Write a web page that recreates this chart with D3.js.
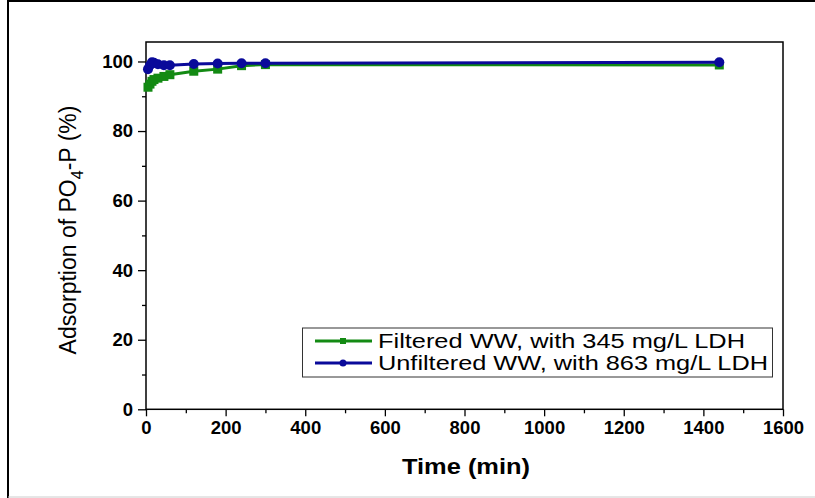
<!DOCTYPE html>
<html><head><meta charset="utf-8">
<script src="https://cdn.jsdelivr.net/npm/d3@7"></script>
<style>body{margin:0;background:#fff;}svg{display:block;font-family:Arial,"Liberation Sans",sans-serif;}</style>
</head><body>
<script>
const times = [5, 10, 15, 20, 30, 45, 60, 120, 180, 240, 300, 1440];
const filtered = [92.6, 93.5, 94.3, 94.8, 95.2, 95.7, 96.2, 97.2, 97.8, 98.8, 99.1, 99.0];
const unfiltered = [97.8, 98.9, 99.8, 99.6, 99.2, 98.9, 98.9, 99.3, 99.4, 99.5, 99.5, 99.8];
const seriesNames = ["Filtered WW, with 345 mg/L LDH", "Unfiltered WW, with 863 mg/L LDH"];
const xTicks = [0, 200, 400, 600, 800, 1000, 1200, 1400, 1600];
const yTicks = [0, 20, 40, 60, 80, 100];

const W = 815, H = 498;
const svg = d3.select("body").append("svg").attr("width", W).attr("height", H);

// outer border
svg.append("line").attr("x1",8).attr("y1",1).attr("x2",815).attr("y2",1).attr("stroke","#000").attr("stroke-width",2);
svg.append("line").attr("x1",8).attr("y1",0).attr("x2",8).attr("y2",498).attr("stroke","#000").attr("stroke-width",2);
svg.append("line").attr("x1",8).attr("y1",497).attr("x2",815).attr("y2",497).attr("stroke","#ccc").attr("stroke-width",1);

const L = 146, R = 783, T = 42, B = 409.3;
const x = d3.scaleLinear().domain([0, 1600]).range([L, R]);
const y = d3.scaleLinear().domain([0, 105.6]).range([B, T]);

// frame
svg.append("rect").attr("x",L).attr("y",T).attr("width",R-L).attr("height",B-T)
  .attr("fill","none").attr("stroke","#000").attr("stroke-width",1.5);

// axes
const xAxis = svg.append("g").attr("transform",`translate(0,${B})`)
  .call(d3.axisBottom(x).tickValues(xTicks).tickSize(7).tickPadding(5).tickFormat(d3.format("d")));
const xMinor = svg.append("g").attr("transform",`translate(0,${B})`)
  .call(d3.axisBottom(x).tickValues(d3.range(100,1600,200)).tickSize(4).tickFormat(""));
const yAxis = svg.append("g").attr("transform",`translate(${L},0)`)
  .call(d3.axisLeft(y).tickValues(yTicks).tickSize(8).tickPadding(5));
const yMinor = svg.append("g").attr("transform",`translate(${L},0)`)
  .call(d3.axisLeft(y).tickValues([10,30,50,70,90]).tickSize(4).tickFormat(""));
[xAxis,xMinor,yAxis,yMinor].forEach(g=>{
  g.select(".domain").remove();
  g.selectAll("line").attr("stroke","#000").attr("stroke-width",1.3);
  g.selectAll("text").attr("font-size",18.5).attr("font-weight","bold").attr("fill","#000")
   .attr("font-family","Arial, 'Liberation Sans', sans-serif");
});

// labels
svg.append("text").attr("x",466).attr("y",474).attr("text-anchor","middle")
  .attr("font-size",22).attr("font-weight","bold").attr("textLength",128).attr("lengthAdjust","spacingAndGlyphs")
  .text("Time (min)");
const yl = svg.append("text").attr("transform",`translate(76,230) rotate(-90)`).attr("text-anchor","middle")
  .attr("font-size",23);
yl.append("tspan").text("Adsorption of PO");
yl.append("tspan").attr("font-size",16).attr("dy",7).text("4");
yl.append("tspan").attr("dy",-7).text("-P (%)");

const green = "#138a13", blue = "#0a0a9a";
const line = d3.line().x(d=>x(d[0])).y(d=>y(d[1]));
const gData = times.map((t,i)=>[t, filtered[i]]);
const bData = times.map((t,i)=>[t, unfiltered[i]]);

svg.append("path").datum(gData).attr("d",line).attr("fill","none").attr("stroke",green).attr("stroke-width",3);
svg.selectAll(".gm").data(gData).enter().append("rect")
  .attr("x",d=>x(d[0])-4.5).attr("y",d=>y(d[1])-4.5).attr("width",9).attr("height",9).attr("fill",green);
svg.append("path").datum(bData).attr("d",line).attr("fill","none").attr("stroke",blue).attr("stroke-width",3);
svg.selectAll(".bm").data(bData).enter().append("circle")
  .attr("cx",d=>x(d[0])).attr("cy",d=>y(d[1])).attr("r",5).attr("fill",blue);

// legend
const lg = svg.append("g");
lg.append("rect").attr("x",302.5).attr("y",328).attr("width",470).attr("height",49)
  .attr("fill","#fff").attr("stroke","#333").attr("stroke-width",1);
const rows = [{c:green, n:seriesNames[0], w:367, sq:true},{c:blue, n:seriesNames[1], w:390, sq:false}];
rows.forEach((r,i)=>{
  const cy = 341 + i*22;
  lg.append("line").attr("x1",315).attr("x2",372).attr("y1",cy).attr("y2",cy).attr("stroke",r.c).attr("stroke-width",3);
  if(r.sq) lg.append("rect").attr("x",340).attr("y",cy-3).attr("width",6).attr("height",6).attr("fill",r.c);
  else lg.append("circle").attr("cx",343).attr("cy",cy).attr("r",3.5).attr("fill",r.c);
  lg.append("text").attr("x",378).attr("y",cy+7).attr("font-size",20).attr("textLength",r.w)
    .attr("lengthAdjust","spacingAndGlyphs").attr("fill","#000").text(r.n);
});
</script>
</body></html>
